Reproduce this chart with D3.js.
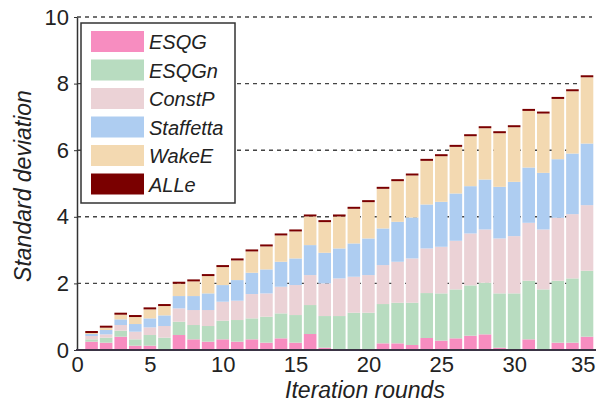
<!DOCTYPE html>
<html><head><meta charset="utf-8">
<script src="https://cdn.jsdelivr.net/npm/d3@7"></script>
<style>body{margin:0;background:#fff}svg{display:block}</style>
</head><body>
<svg id="c" width="596" height="408"></svg>
<script>
const rounds = d3.range(1, 36);
const seriesNames = ["ESQG","ESQGn","ConstP","Staffetta","WakeE","ALLe"];
const seriesColors = ["#f78dc0","#b8dcc0","#ebd2d6","#aecdf1","#f3d9b1","#7a0000"];
const esqg = [0.25,0.22,0.40,0.13,0.13,0.02,0.45,0.32,0.25,0.32,0.25,0.32,0.22,0.35,0.22,0.48,0.07,0.02,0.02,0.02,0.20,0.20,0.15,0.36,0.28,0.35,0.43,0.47,0.07,0.02,0.32,0.02,0.22,0.22,0.40];
const esqgn = [0.07,0.15,0.18,0.19,0.32,0.35,0.40,0.43,0.47,0.56,0.65,0.63,0.78,0.75,0.83,0.87,0.95,1.00,1.10,1.10,1.18,1.22,1.27,1.35,1.42,1.47,1.51,1.55,1.63,1.68,1.76,1.80,1.86,1.93,1.98];
const constP = [0.10,0.10,0.17,0.23,0.23,0.35,0.40,0.45,0.48,0.57,0.58,0.73,0.70,0.80,0.90,0.90,0.98,1.13,1.08,1.13,1.17,1.23,1.33,1.34,1.40,1.46,1.56,1.60,1.65,1.72,1.74,1.80,1.89,1.93,1.97];
const staffetta = [0.06,0.13,0.17,0.23,0.27,0.32,0.37,0.42,0.50,0.50,0.62,0.64,0.72,0.75,0.80,0.90,0.92,0.90,1.00,1.10,1.10,1.20,1.23,1.32,1.35,1.42,1.42,1.50,1.55,1.63,1.66,1.70,1.76,1.82,1.85];
const wakeE = [0.03,0.07,0.14,0.21,0.27,0.28,0.37,0.44,0.52,0.54,0.59,0.64,0.69,0.79,0.81,0.86,0.92,0.96,1.04,1.09,1.19,1.22,1.26,1.31,1.37,1.40,1.50,1.54,1.61,1.64,1.70,1.78,1.81,1.87,1.99];
const alle = [0.06,0.06,0.06,0.06,0.06,0.06,0.06,0.06,0.06,0.06,0.06,0.06,0.06,0.06,0.06,0.06,0.06,0.06,0.06,0.06,0.06,0.06,0.06,0.06,0.06,0.06,0.06,0.06,0.06,0.06,0.06,0.06,0.06,0.06,0.06];
const yTicks = [0,2,4,6,8,10];
const xTicks = [0,5,10,15,20,25,30,35];

const seriesData = [esqg, esqgn, constP, staffetta, wakeE, alle];
const table = rounds.map((r, i) => {
  const o = {round: r};
  seriesNames.forEach((n, k) => o[n] = seriesData[k][i]);
  return o;
});

const svg = d3.select("#c");
const x = d3.scaleLinear().domain([0, 35]).range([77, 587]);
const y = d3.scaleLinear().domain([0, 10]).range([350, 17]);
const bw = 12.6;
const font = "Liberation Sans, Arial, sans-serif";

// gridlines
svg.append("g").selectAll("line").data(yTicks.filter(d => d > 0)).join("line")
  .attr("x1", x(0)).attr("x2", 592)
  .attr("y1", d => y(d)).attr("y2", d => y(d))
  .attr("stroke", "#444").attr("stroke-width", 1.4).attr("stroke-dasharray", "4,4");

// bars
const stack = d3.stack().keys(seriesNames)(table);
svg.append("g").selectAll("g").data(stack).join("g")
  .attr("fill", (d, k) => seriesColors[k])
  .selectAll("rect").data(d => d).join("rect")
  .attr("x", d => x(d.data.round) - bw / 2)
  .attr("width", bw)
  .attr("y", d => y(d[1]))
  .attr("height", d => y(d[0]) - y(d[1]));

// axes
const yAxis = d3.axisLeft(y).tickValues(yTicks).tickSize(3).tickPadding(5).tickSizeOuter(0);
const gy = svg.append("g").attr("transform", `translate(${x(0)},0)`).call(yAxis);
gy.select(".domain").attr("stroke", "#333").attr("stroke-width", 1.5);
gy.selectAll(".tick line").attr("stroke", "#333");
gy.selectAll("text").attr("font-family", font).attr("font-size", 22).attr("fill", "#222");

svg.append("line").attr("x1", x(0) - 1).attr("x2", 596).attr("y1", y(0)).attr("y2", y(0))
  .attr("stroke", "#3a3344").attr("stroke-width", 2);
const xAxis = d3.axisBottom(x).tickValues(xTicks).tickSize(0).tickPadding(6);
const gx = svg.append("g").attr("transform", `translate(0,${y(0)})`).call(xAxis);
gx.select(".domain").remove();
gx.selectAll("text").attr("font-family", font).attr("font-size", 22).attr("fill", "#222");
gx.selectAll(".tick").filter(d => d === 35).select("text").attr("text-anchor", "end").attr("x", 595 - x(35));

// titles
svg.append("text").attr("x", 365).attr("y", 398).attr("text-anchor", "middle")
  .attr("font-family", font).attr("font-style", "italic").attr("font-size", 23).attr("fill", "#222")
  .text("Iteration rounds");
svg.append("text").attr("transform", "translate(31,186) rotate(-90)").attr("text-anchor", "middle")
  .attr("font-family", font).attr("font-style", "italic").attr("font-size", 23).attr("fill", "#222")
  .text("Standard deviation");

// legend
const lg = svg.append("g");
lg.append("rect").attr("x", 81).attr("y", 23).attr("width", 154).attr("height", 180)
  .attr("fill", "#fff").attr("stroke", "#333").attr("stroke-width", 1.5);
const items = lg.selectAll("g.item").data(seriesNames).join("g").attr("class", "item")
  .attr("transform", (d, i) => `translate(91,${31 + i * 28.5})`);
items.append("rect").attr("width", 53).attr("height", 21).attr("fill", (d, i) => seriesColors[i]);
items.append("text").attr("x", 58).attr("y", 18).attr("font-family", font).attr("font-style", "italic")
  .attr("font-size", 20).attr("fill", "#222").text(d => d);
</script>
</body></html>
